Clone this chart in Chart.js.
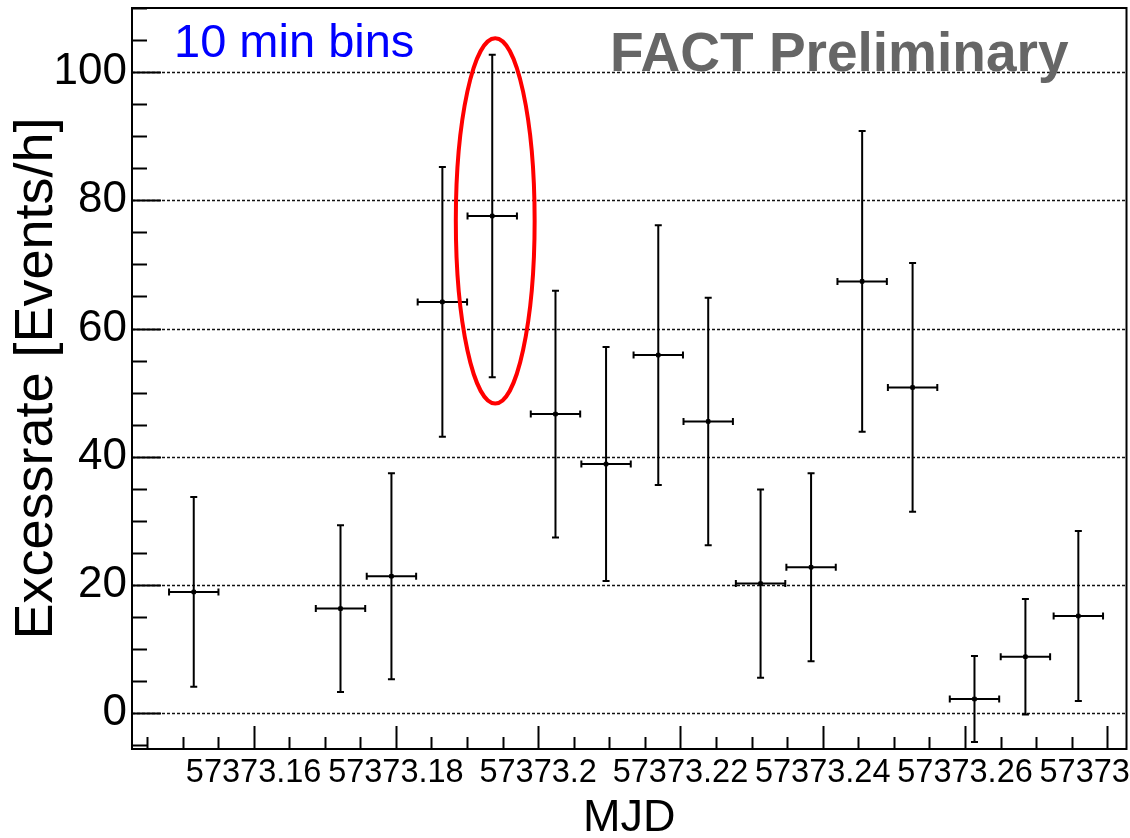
<!DOCTYPE html>
<html>
<head>
<meta charset="utf-8">
<script src="https://cdn.jsdelivr.net/npm/chart.js@4.4.1/dist/chart.umd.min.js"></script>
<style>
  html, body { margin: 0; padding: 0; background: #fff; }
  #wrap { width: 1130px; height: 838px; }
</style>
</head>
<body>
<div id="wrap"><canvas id="lc" width="1130" height="838"></canvas></div>
<script>
// FACT light curve, excess rate in 10 min bins

const mjd = [57373.15158, 57373.17221, 57373.17937, 57373.18653, 57373.19354, 57373.20243,
  57373.20954, 57373.21688, 57373.22390, 57373.23126, 57373.23836, 57373.24554,
  57373.25263, 57373.26133, 57373.26849, 57373.27593];
const rate = [18.9, 16.3, 21.35, 64.15, 77.55, 46.65, 38.85, 55.85, 45.5, 20.2, 22.75, 67.35,
  50.8, 2.2, 8.8, 15.15];
const rateErr = [14.8, 13.0, 16.05, 21.05, 25.15, 19.25, 18.25, 20.25, 19.3, 14.7, 14.65, 23.45,
  19.4, 6.7, 9.0, 13.25];
const binHalf = 5 / 1440; // 5 min in days

const xTicks = [57373.16, 57373.18, 57373.20, 57373.22, 57373.24, 57373.26, 57373.28];
// last one is cut short and pushed left, like ROOT does at the frame edge
const xTickLabels = ["57373.16", "57373.18", "57373.2", "57373.22", "57373.24", "57373.26", "57373     "];
const yTicks = [0, 20, 40, 60, 80, 100];

// the circled bin
const markMjd = 57373.19396, markRate = 76.8, markHalfX = 0.00554, markHalfY = 28.5;

const X_MIN = 57373.1429, X_MAX = 57373.2827;
const Y_MIN = -5.6, Y_MAX = 110.0;

const points = mjd.map((m, i) => ({ x: m, y: rate[i] }));

// ROOT-like frame, inner ticks, dashed grid, error bars, labels
const rootStyle = {
  id: "rootStyle",
  beforeDatasetsDraw(chart) {
    const { ctx, chartArea: a, scales: { x, y } } = chart;
    ctx.save();
    // dashed horizontal grid
    ctx.strokeStyle = "#111";
    ctx.lineWidth = 1.5;
    ctx.setLineDash([3, 2]);
    yTicks.forEach(v => {
      const py = Math.round(y.getPixelForValue(v)) + 0.5;
      ctx.beginPath(); ctx.moveTo(a.left, py); ctx.lineTo(a.right, py); ctx.stroke();
    });
    ctx.setLineDash([]);

    // y ticks (major 20, minor 5)
    ctx.strokeStyle = "#000";
    ctx.lineWidth = 2;
    for (let v = -5; v <= Y_MAX; v += 5) {
      const py = Math.round(y.getPixelForValue(v)) + 0.5;
      const len = (v % 20 === 0) ? 29 : 15;
      ctx.beginPath(); ctx.moveTo(a.left, py); ctx.lineTo(a.left + len, py); ctx.stroke();
    }
    // x ticks (major 0.02, minor 0.005)
    for (let k = 0; k <= 30; k++) {
      const v = 57373.14 + k * 0.005;
      if (v < X_MIN || v > X_MAX) continue;
      const px = Math.round(x.getPixelForValue(v)) + 0.5;
      const len = (k % 4 === 0) ? 23 : 12;
      ctx.beginPath(); ctx.moveTo(px, a.bottom); ctx.lineTo(px, a.bottom - len); ctx.stroke();
    }

    // frame
    ctx.lineWidth = 2;
    ctx.strokeRect(a.left, a.top, a.right - a.left, a.bottom - a.top);

    // error bars
    ctx.lineWidth = 2;
    points.forEach((p, i) => {
      const cx = x.getPixelForValue(p.x);
      const cy = y.getPixelForValue(p.y);
      const x0 = x.getPixelForValue(p.x - binHalf), x1 = x.getPixelForValue(p.x + binHalf);
      const y0 = y.getPixelForValue(p.y - rateErr[i]), y1 = y.getPixelForValue(p.y + rateErr[i]);
      ctx.beginPath();
      ctx.moveTo(x0, cy); ctx.lineTo(x1, cy);
      ctx.moveTo(x0, cy - 3.5); ctx.lineTo(x0, cy + 3.5);
      ctx.moveTo(x1, cy - 3.5); ctx.lineTo(x1, cy + 3.5);
      ctx.moveTo(cx, y0); ctx.lineTo(cx, y1);
      ctx.moveTo(cx - 3.5, y0); ctx.lineTo(cx + 3.5, y0);
      ctx.moveTo(cx - 3.5, y1); ctx.lineTo(cx + 3.5, y1);
      ctx.stroke();
    });
    ctx.restore();
  },
  afterDatasetsDraw(chart) {
    const { ctx, scales: { x, y } } = chart;
    ctx.save();
    // red ellipse around the flare bin
    const ex = x.getPixelForValue(markMjd), ey = y.getPixelForValue(markRate);
    const rx = x.getPixelForValue(markMjd + markHalfX) - ex;
    const ry = ey - y.getPixelForValue(markRate + markHalfY);
    ctx.strokeStyle = "#ff0000";
    ctx.lineWidth = 4;
    ctx.beginPath(); ctx.ellipse(ex, ey, rx, ry, 0, 0, Math.PI * 2); ctx.stroke();

    ctx.textBaseline = "alphabetic";
    ctx.fillStyle = "#0000ff";
    ctx.font = "47px 'Liberation Sans', Arial, sans-serif";
    ctx.fillText("10 min bins", 174, 57);
    ctx.fillStyle = "#666666";
    ctx.font = "bold 55px 'Liberation Sans', Arial, sans-serif";
    ctx.fillText("FACT Preliminary", 610, 71);
    ctx.restore();
  }
};

new Chart(document.getElementById("lc"), {
  type: "scatter",
  data: {
    datasets: [{
      data: points,
      backgroundColor: "#000",
      borderColor: "#000",
      pointRadius: 2.5,
      pointHoverRadius: 2.5,
      pointStyle: "rect"
    }]
  },
  options: {
    responsive: false,
    devicePixelRatio: 1,
    animation: false,
    events: [],
    layout: { padding: { top: 8, right: 2, left: 0, bottom: 0 } },
    plugins: { legend: { display: false }, tooltip: { enabled: false } },
    scales: {
      x: {
        type: "linear",
        min: X_MIN, max: X_MAX,
        afterBuildTicks: s => { s.ticks = xTicks.map(v => ({ value: v })); },
        afterFit: s => { s.height = 89; s.paddingLeft = 0; s.paddingRight = 0; },
        grid: { display: false, drawTicks: false },
        border: { display: false },
        ticks: {
          color: "#000",
          padding: 5,
          maxRotation: 0,
          autoSkip: false,
          font: { family: "'Liberation Sans', Arial, sans-serif", size: 32.5 },
          callback: (v, i) => xTickLabels[i]
        },
        title: {
          display: true, text: "MJD", color: "#000",
          font: { family: "'Liberation Sans', Arial, sans-serif", size: 45, lineHeight: 0.8 },
          padding: { top: 0, bottom: 1 }
        }
      },
      y: {
        type: "linear",
        min: Y_MIN, max: Y_MAX,
        afterBuildTicks: s => { s.ticks = yTicks.map(v => ({ value: v })); },
        afterFit: s => { s.width = 132; s.paddingTop = 0; s.paddingBottom = 0; },
        grid: { display: false, drawTicks: false },
        border: { display: false },
        ticks: {
          color: "#000",
          padding: 5,
          font: { family: "'Liberation Sans', Arial, sans-serif", size: 44 },
          callback: v => String(v)
        },
        title: {
          display: true, text: "Excessrate [Events/h]", color: "#000",
          font: { family: "'Liberation Sans', Arial, sans-serif", size: 54, lineHeight: 1.2 },
          padding: { top: 5, bottom: 0 }
        }
      }
    }
  },
  plugins: [rootStyle]
});
</script>
</body>
</html>
